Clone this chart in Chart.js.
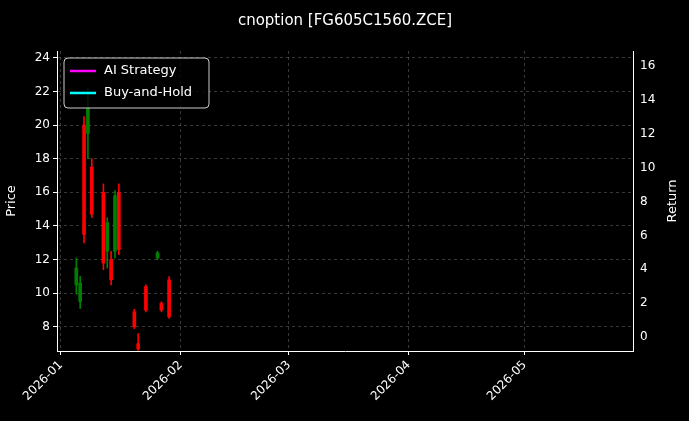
<!DOCTYPE html>
<html>
<head>
<meta charset="utf-8">
<script src="https://cdn.jsdelivr.net/npm/chart.js@4"></script>
<style>
  body { margin: 0; background: #000; }
  #wrap { width: 689px; height: 421px; }
</style>
</head>
<body>
<div id="wrap"><canvas id="myChart"></canvas></div>
<script>
// days counted from 2026-01-01
var candleDays = [4, 5, 6, 7, 8, 11, 12, 13, 14, 15, 19, 20, 22, 25, 26, 28];
var candleOpen  = [10.5, 9.5, 20.0, 19.5, 17.5, 16.0, 12.5, 12.0, 12.5, 16.0, 8.9, 7.0, 10.4, 12.1, 9.4, 10.8];
var candleClose = [11.5, 10.6, 13.5, 21.0, 14.7, 11.8, 14.2, 10.8, 15.8, 12.6, 8.0, 6.7, 9.0, 12.4, 9.0, 8.6];
var candleHigh  = [12.1, 11.0, 20.5, 22.2, 18.0, 16.5, 14.5, 12.5, 16.1, 16.5, 9.05, 7.6, 10.5, 12.5, 9.5, 11.0];
var candleLow   = [9.95, 9.1, 13.0, 18.0, 14.5, 11.4, 11.5, 10.5, 12.1, 12.3, 7.9, 6.6, 8.9, 12.0, 8.9, 8.5];

var aiDays = [-1, 4, 5, 6, 11, 13, 15, 20, 22, 25, 26, 28];
var aiReturn = [1.0, 0.95, 1.8, 2.1, 2.3, 2.9, 3.0, 7.7, 5.9, 6.7, 8.5, 16.2];
var bhDays = [-1, 4, 5, 6, 7, 10, 13, 15, 19, 28];
var bhReturn = [0.77, 0.75, 1.4, 1.3, 1.3, 1.1, 0.9, 1.0, 0.0, 0.0];

var monthTicks = [0, 31, 59, 90, 120];
var monthLabels = ['2026-01', '2026-02', '2026-03', '2026-04', '2026-05'];

var candleColors = candleDays.map(function (d, i) {
    return candleClose[i] >= candleOpen[i] ? '#008000' : '#ff0000';
});
function pts(xs, ys) { return xs.map(function (x, i) { return { x: x, y: ys[i] }; }); }

var insideLegend = {
    id: 'insideLegend',
    afterDraw: function (chart) {
        var c = chart.ctx, a = chart.chartArea;
        var items = chart.data.datasets.filter(function (d) { return d.type === 'line'; });
        var x = a.left + 7, y = a.top + 7, w = 145, h = 50;
        c.save();
        c.fillStyle = 'rgba(0,0,0,0.8)';
        c.strokeStyle = '#cccccc';
        c.lineWidth = 1;
        c.beginPath();
        c.roundRect(x, y, w, h, 4);
        c.fill(); c.stroke();
        c.font = '13px "DejaVu Sans"';
        c.textBaseline = 'middle';
        items.forEach(function (d, i) {
            var yy = y + 13 + i * 22;
            c.strokeStyle = d.borderColor; c.lineWidth = 2.5;
            c.beginPath(); c.moveTo(x + 6, yy); c.lineTo(x + 32, yy); c.stroke();
            c.fillStyle = '#ffffff';
            c.fillText(d.label, x + 40, yy);
        });
        c.font = '15px "DejaVu Sans"';
        c.textAlign = 'center';
        c.fillText('cnoption [FG605C1560.ZCE]', 345, 21);
        // right axis title, reading bottom to top
        c.font = '13px "DejaVu Sans"';
        c.translate(673, (a.top + a.bottom) / 2);
        c.rotate(-Math.PI / 2);
        c.fillText('Return', 0, 0);
        c.restore();
    }
};

var grid = { color: 'rgba(160,160,160,0.35)', offset: false, drawTicks: true, tickColor: '#fff', tickLength: 4 };
var border = { color: '#fff', dash: [3, 3] };

new Chart(document.getElementById('myChart'), {
    type: 'line',
    data: {
        datasets: [{
            type: 'bar',
            label: 'wick',
            data: pts(candleDays, candleDays.map(function (d, i) { return [candleLow[i], candleHigh[i]]; })),
            backgroundColor: candleColors,
            borderWidth: 0,
            borderSkipped: false,
            barThickness: 1,
            grouped: false,
            yAxisID: 'y',
            order: 3
        }, {
            type: 'bar',
            label: 'body',
            data: pts(candleDays, candleDays.map(function (d, i) { return [candleOpen[i], candleClose[i]]; })),
            backgroundColor: candleColors,
            borderWidth: 0,
            borderSkipped: false,
            barThickness: 3,
            grouped: false,
            yAxisID: 'y',
            order: 2
        }, {
            type: 'line',
            label: 'AI Strategy',
            data: pts(aiDays, aiReturn),
            borderColor: '#ff00ff',
            borderWidth: 2,
            pointRadius: 0,
            fill: false,
            yAxisID: 'r',
            order: 1
        }, {
            type: 'line',
            label: 'Buy-and-Hold',
            data: pts(bhDays, bhReturn),
            borderColor: '#00ffff',
            borderWidth: 2,
            pointRadius: 0,
            fill: false,
            yAxisID: 'r',
            order: 0
        }]
    },
    options: {
        responsive: true,
        maintainAspectRatio: false,
        animation: false,
        layout: { padding: { top: 51, left: 0, right: 0, bottom: 0 } },
        plugins: { legend: { display: false }, tooltip: { enabled: false } },
        scales: {
            x: {
                type: 'linear', min: -1, max: 148, offset: false,
                grid: grid,
                border: border,
                afterBuildTicks: function (s) { s.ticks = monthTicks.map(function (v) { return { value: v }; }); },
                afterFit: function (s) { s.height = 70; },
                ticks: {
                    color: '#fff', font: { size: 12, family: 'DejaVu Sans' }, minRotation: 45, maxRotation: 45,
                    callback: function (v) { return monthLabels[monthTicks.indexOf(v)]; }
                }
            },
            y: {
                position: 'left', min: 6.57, max: 24.4,
                grid: grid,
                border: border,
                afterBuildTicks: function (s) { s.ticks = [8, 10, 12, 14, 16, 18, 20, 22, 24].map(function (v) { return { value: v }; }); },
                afterFit: function (s) { s.width = 57; },
                title: { display: true, text: 'Price', color: '#fff', font: { size: 13, family: 'DejaVu Sans' } },
                ticks: { color: '#fff', font: { size: 12, family: 'DejaVu Sans' } }
            },
            r: {
                position: 'right', min: -0.83, max: 16.9,
                grid: { display: false, tickColor: '#fff', tickLength: 4 },
                border: { color: '#fff' },
                afterBuildTicks: function (s) { s.ticks = [0, 2, 4, 6, 8, 10, 12, 14, 16].map(function (v) { return { value: v }; }); },
                afterFit: function (s) { s.width = 56; },
                ticks: { color: '#fff', font: { size: 12, family: 'DejaVu Sans' } }
            }
        }
    },
    plugins: [insideLegend]
});
</script>
</body>
</html>
